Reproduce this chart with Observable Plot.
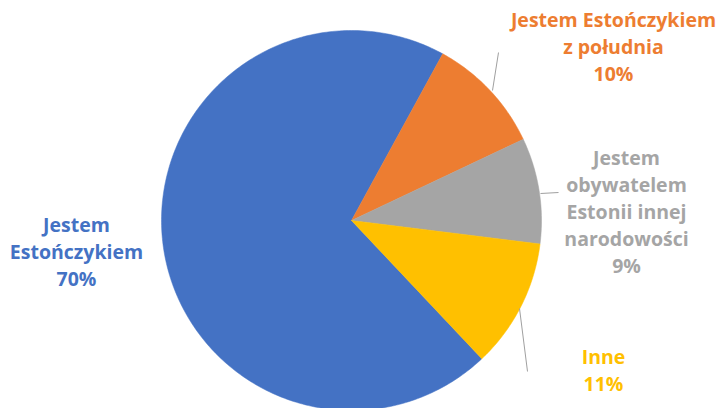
<!DOCTYPE html>
<html>
<head>
<meta charset="utf-8">
<script src="https://cdn.jsdelivr.net/npm/d3@7"></script>
<script src="https://cdn.jsdelivr.net/npm/@observablehq/plot@0.6"></script>
<style>
  html, body { margin: 0; padding: 0; background: #fff; }
</style>
</head>
<body>
<div id="chart"></div>
<script>
// Data
const categories = [
  "Jestem Estończykiem",
  "Jestem Estończykiem z południa",
  "Jestem obywatelem Estonii innej narodowości",
  "Inne"
];
const values = [70, 10, 9, 11];
const labels = [
  "Jestem\nEstończykiem\n70%",
  "Jestem Estończykiem\nz południa\n10%",
  "Jestem\nobywatelem\nEstonii innej\nnarodowości\n9%",
  "Inne\n11%"
];
const colors = ["#4472C4", "#ED7D31", "#A5A5A5", "#FFC000"];

// Layout (positions, not data)
const W = 722, H = 408;
const cx = 351, cy = 220, R = 190;
const startDeg = 136.7;
const labelPos = [[76, 250], [613, 45], [626, 210], [603, 368]];
const leaders = [null, [498, 52, 492, 90], [558, 192, 540, 193], [519, 308, 527, 371]];

const pie = d3.pie().sort(null).value(d => d)
  .startAngle(startDeg * Math.PI / 180)
  .endAngle(startDeg * Math.PI / 180 + 2 * Math.PI);
const arcs = pie(values);

const slicePts = [];
arcs.forEach((a, i) => {
  const n = Math.max(8, Math.ceil((a.endAngle - a.startAngle) * 60));
  slicePts.push({cat: categories[i], x: cx, y: cy});
  for (let k = 0; k <= n; k++) {
    const t = a.startAngle + (a.endAngle - a.startAngle) * k / n;
    slicePts.push({cat: categories[i], x: cx + R * Math.sin(t), y: cy - R * Math.cos(t)});
  }
  slicePts.push({cat: categories[i], x: cx, y: cy});
});

const labelData = categories.map((c, i) => ({cat: c, text: labels[i], x: labelPos[i][0], y: labelPos[i][1]}));
const leaderData = leaders.map((l, i) => l && ({x1: l[0], y1: l[1], x2: l[2], y2: l[3]})).filter(Boolean);

const chart = Plot.plot({
  width: W,
  height: H,
  margin: 0,
  x: {domain: [0, W], range: [0, W], axis: null},
  y: {domain: [0, H], range: [0, H], axis: null},
  color: {domain: categories, range: colors},
  style: {fontFamily: "'Open Sans', sans-serif", background: "#fff"},
  marks: [
    Plot.line(slicePts, {x: "x", y: "y", z: "cat", fill: "cat", stroke: "cat", strokeWidth: 0.5, curve: "linear"}),
    Plot.link(leaderData, {x1: "x1", y1: "y1", x2: "x2", y2: "y2", stroke: "#A0A0A0", strokeWidth: 1}),
    Plot.text(labelData, {
      x: "x", y: "y", text: "text", fill: "cat",
      fontSize: 19.5, fontWeight: "bold", lineHeight: 1.39,
      lineAnchor: "middle", textAnchor: "middle"
    })
  ]
});
document.getElementById("chart").appendChild(chart);
</script>
</body>
</html>
